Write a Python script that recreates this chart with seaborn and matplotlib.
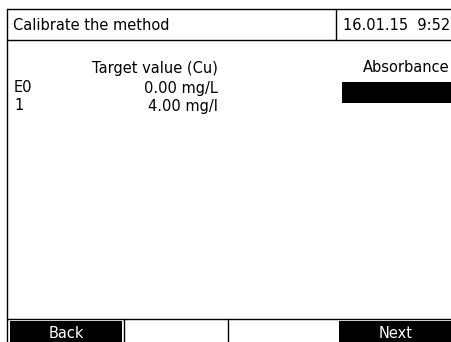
import seaborn as sns
import matplotlib.pyplot as plt
from matplotlib.patches import Rectangle

# screen content
title = "Calibrate the method"
timestamp = "16.01.15  9:52"
col_headers = ["Target value (Cu)", "Absorbance"]
row_ids = ["E0", "1"]
target_values = ["0.00 mg/L", "4.00 mg/l"]
buttons = ["Back", "", "", "Next"]

W, H = 452, 342


def draw_screen(ax):
    ax.set_xlim(0, W)
    ax.set_ylim(H, 0)
    ax.axis("off")

    lw = 1.0
    # frame + header
    ax.plot([7, W], [9, 9], color="black", lw=lw)
    ax.plot([7, W], [40, 40], color="black", lw=lw)
    ax.plot([7, 7], [9, H], color="black", lw=lw)
    ax.plot([336, 336], [9, 40], color="black", lw=lw)
    ax.text(13, 25, title, fontsize=10.5, va="center", ha="left")
    ax.text(450, 25, timestamp, fontsize=10.5, va="center", ha="right")

    # table
    ax.text(218, 68, col_headers[0], fontsize=10.5, va="center", ha="right")
    ax.text(450, 68, col_headers[1], fontsize=10.5, va="center", ha="right")
    row_y = [88, 106]
    for rid, val, y in zip(row_ids, target_values, row_y):
        ax.text(14, y, rid, fontsize=10.5, va="center", ha="left")
        ax.text(218, y, val, fontsize=10.5, va="center", ha="right")
    # selected absorbance cell
    ax.add_patch(Rectangle((342, 82), W - 342, 21, color="black", lw=0))

    # soft-key bar
    ax.plot([7, W], [319, 319], color="black", lw=lw)
    for x in [124, 228]:
        ax.plot([x, x], [319, H], color="black", lw=lw)
    spans = [(10, 122), (124, 228), (228, 339), (339, W)]
    for label, (x0, x1) in zip(buttons, spans):
        if label:
            ax.add_patch(Rectangle((x0, 321), x1 - x0, H - 321, color="black", lw=0))
            ax.text((x0 + x1) / 2, 333, label, fontsize=10.5, color="white",
                    va="center", ha="center")


sns.set_style("white")
plt.rcParams['font.family'] = ['DejaVu Sans']
plt.rcParams['text.color'] = 'black'
fig = plt.figure(figsize=(W / 100, H / 100), dpi=100)
ax = fig.add_axes([0, 0, 1, 1])
draw_screen(ax)
fig.savefig("out.png", dpi=100)
